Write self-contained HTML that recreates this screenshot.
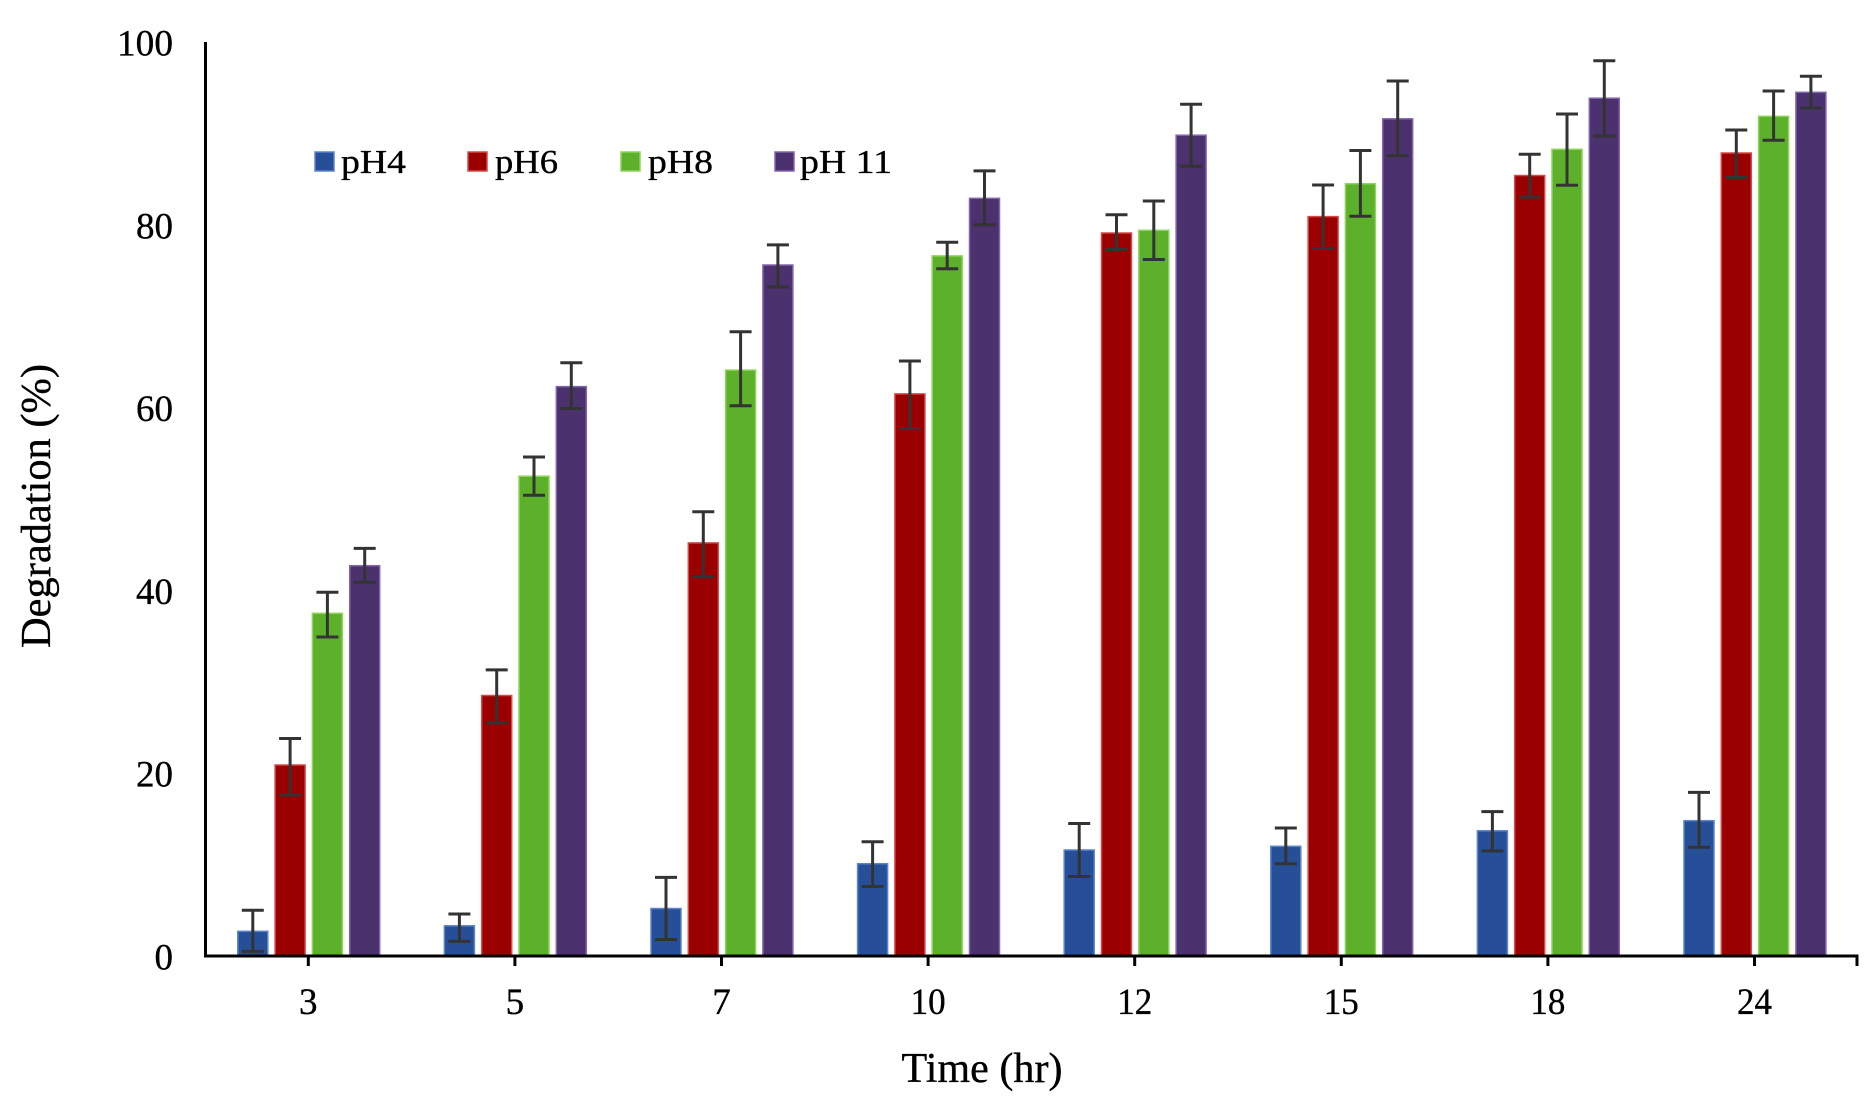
<!DOCTYPE html>
<html>
<head>
<meta charset="utf-8">
<style>
html,body{margin:0;padding:0;background:#fff;}
svg{display:block;}
text{font-family:"Liberation Serif","Times New Roman",serif;fill:#000;stroke:#000;stroke-width:0.35;}
</style>
</head>
<body>
<svg width="1870" height="1103" viewBox="0 0 1870 1103" xmlns="http://www.w3.org/2000/svg">
<rect x="0" y="0" width="1870" height="1103" fill="#fff"/>

<!-- Y tick labels -->
<g font-size="37" text-anchor="end">
<text x="173" y="969.5">0</text>
<text x="173" y="786.7">20</text>
<text x="173" y="603.9">40</text>
<text x="173" y="421.1">60</text>
<text x="173" y="238.3">80</text>
<text x="173" y="55.5" textLength="56" lengthAdjust="spacingAndGlyphs">100</text>
</g>

<!-- Y title -->
<text font-size="42" text-anchor="middle" transform="translate(50,506) rotate(-90)" textLength="284" lengthAdjust="spacingAndGlyphs">Degradation (%)</text>

<!-- X title -->
<text x="982" y="1082" font-size="42" text-anchor="middle" textLength="161" lengthAdjust="spacingAndGlyphs">Time (hr)</text>

<!-- X tick labels -->
<g font-size="37" text-anchor="middle">
<text x="308.3" y="1014">3</text>
<text x="514.9" y="1014">5</text>
<text x="721.5" y="1014">7</text>
<text x="928.1" y="1014" textLength="35" lengthAdjust="spacingAndGlyphs">10</text>
<text x="1134.7" y="1014" textLength="35" lengthAdjust="spacingAndGlyphs">12</text>
<text x="1341.3" y="1014" textLength="35" lengthAdjust="spacingAndGlyphs">15</text>
<text x="1547.9" y="1014" textLength="35" lengthAdjust="spacingAndGlyphs">18</text>
<text x="1754.5" y="1014" textLength="35" lengthAdjust="spacingAndGlyphs">24</text>
</g>

<!-- Bars -->
<g stroke-width="1.5">
<g fill="#264F98" stroke="#5A84CC">
<rect x="237.8" y="931.3" width="30" height="24.7"/>
<rect x="444.4" y="925.8" width="30" height="30.2"/>
<rect x="651.0" y="908.5" width="30" height="47.5"/>
<rect x="857.6" y="863.7" width="30" height="92.3"/>
<rect x="1064.2" y="850.0" width="30" height="106.0"/>
<rect x="1270.8" y="846.3" width="30" height="109.7"/>
<rect x="1477.4" y="830.8" width="30" height="125.2"/>
<rect x="1684.0" y="820.7" width="30" height="135.3"/>
</g>
<g fill="#9B0000" stroke="#D24A4A">
<rect x="275.1" y="765.0" width="30" height="191.0"/>
<rect x="481.7" y="695.5" width="30" height="260.5"/>
<rect x="688.3" y="542.9" width="30" height="413.1"/>
<rect x="894.9" y="393.9" width="30" height="562.1"/>
<rect x="1101.5" y="233.0" width="30" height="723.0"/>
<rect x="1308.1" y="216.6" width="30" height="739.4"/>
<rect x="1514.7" y="175.5" width="30" height="780.5"/>
<rect x="1721.3" y="153.0" width="30" height="803.0"/>
</g>
<g fill="#5DB02A" stroke="#8FD45C">
<rect x="312.4" y="613.3" width="30" height="342.7"/>
<rect x="519.0" y="476.2" width="30" height="479.8"/>
<rect x="725.6" y="370.1" width="30" height="585.9"/>
<rect x="932.2" y="255.9" width="30" height="700.1"/>
<rect x="1138.8" y="230.3" width="30" height="725.7"/>
<rect x="1345.4" y="183.7" width="30" height="772.3"/>
<rect x="1552.0" y="149.3" width="30" height="806.7"/>
<rect x="1758.6" y="116.3" width="30" height="839.7"/>
</g>
<g fill="#4B316E" stroke="#8466AE">
<rect x="349.7" y="565.7" width="30" height="390.3"/>
<rect x="556.3" y="386.6" width="30" height="569.4"/>
<rect x="762.9" y="265.0" width="30" height="691.0"/>
<rect x="969.5" y="198.3" width="30" height="757.7"/>
<rect x="1176.1" y="135.2" width="30" height="820.8"/>
<rect x="1382.7" y="118.8" width="30" height="837.2"/>
<rect x="1589.3" y="98.2" width="30" height="857.8"/>
<rect x="1795.9" y="92.3" width="30" height="863.7"/>
</g>
</g>

<!-- Error bars -->
<g stroke="#333" stroke-width="3" fill="none">
<path d="
M252.8 910.3V951.4M241.8 910.3H263.8M241.8 951.4H263.8
M290.1 738.5V795.1M279.1 738.5H301.1M279.1 795.1H301.1
M327.4 592.2V637.0M316.4 592.2H338.4M316.4 637.0H338.4
M364.7 548.4V582.2M353.7 548.4H375.7M353.7 582.2H375.7

M459.4 914.0V941.4M448.4 914.0H470.4M448.4 941.4H470.4
M496.7 669.9V722.9M485.7 669.9H507.7M485.7 722.9H507.7
M534.0 457.0V495.3M523.0 457.0H545.0M523.0 495.3H545.0
M571.3 362.8V408.5M560.3 362.8H582.3M560.3 408.5H582.3

M666.0 877.4V939.5M655.0 877.4H677.0M655.0 939.5H677.0
M703.3 511.8V576.7M692.3 511.8H714.3M692.3 576.7H714.3
M740.6 331.7V405.8M729.6 331.7H751.6M729.6 405.8H751.6
M777.9 244.9V287.0M766.9 244.9H788.9M766.9 287.0H788.9

M872.6 841.8V886.5M861.6 841.8H883.6M861.6 886.5H883.6
M909.9 361.0V428.6M898.9 361.0H920.9M898.9 428.6H920.9
M947.2 242.2V268.7M936.2 242.2H958.2M936.2 268.7H958.2
M984.5 170.9V224.8M973.5 170.9H995.5M973.5 224.8H995.5

M1079.2 823.5V876.5M1068.2 823.5H1090.2M1068.2 876.5H1090.2
M1116.5 214.7V249.5M1105.5 214.7H1127.5M1105.5 249.5H1127.5
M1153.8 201.0V259.5M1142.8 201.0H1164.8M1142.8 259.5H1164.8
M1191.1 104.2V166.3M1180.1 104.2H1202.1M1180.1 166.3H1202.1

M1285.8 828.0V863.7M1274.8 828.0H1296.8M1274.8 863.7H1296.8
M1323.1 185.0V248.5M1312.1 185.0H1334.1M1312.1 248.5H1334.1
M1360.4 150.5V216.2M1349.4 150.5H1371.4M1349.4 216.2H1371.4
M1397.7 81.0V155.8M1386.7 81.0H1408.7M1386.7 155.8H1408.7

M1492.4 811.6V850.9M1481.4 811.6H1503.4M1481.4 850.9H1503.4
M1529.7 154.3V197.3M1518.7 154.3H1540.7M1518.7 197.3H1540.7
M1567.0 114.0V185.3M1556.0 114.0H1578.0M1556.0 185.3H1578.0
M1604.3 60.8V136.0M1593.3 60.8H1615.3M1593.3 136.0H1615.3

M1699.0 792.4V847.2M1688.0 792.4H1710.0M1688.0 847.2H1710.0
M1736.3 130.0V177.5M1725.3 130.0H1747.3M1725.3 177.5H1747.3
M1773.6 91.0V140.3M1762.6 91.0H1784.6M1762.6 140.3H1784.6
M1810.9 76.2V108.0M1799.9 76.2H1821.9M1799.9 108.0H1821.9
"/>
</g>

<!-- Axes -->
<g stroke="#000" stroke-width="3" fill="none">
<line x1="205.5" y1="42" x2="205.5" y2="957.5"/>
<line x1="204" y1="956" x2="1858.5" y2="956"/>
<path d="M308.3 956V966M514.9 956V966M721.5 956V966M928.1 956V966M1134.7 956V966M1341.3 956V966M1547.9 956V966M1754.5 956V966M1857 956V966"/>
</g>

<!-- Legend -->
<g stroke-width="1.5">
<rect x="315" y="152" width="19" height="19" fill="#264F98" stroke="#5A84CC"/>
<rect x="468" y="152" width="19" height="19" fill="#9B0000" stroke="#D24A4A"/>
<rect x="621" y="152" width="19" height="19" fill="#5DB02A" stroke="#8FD45C"/>
<rect x="775" y="152" width="19" height="19" fill="#4B316E" stroke="#8466AE"/>
</g>
<g font-size="34">
<text x="341" y="173" textLength="65" lengthAdjust="spacingAndGlyphs">pH4</text>
<text x="495" y="173" textLength="63" lengthAdjust="spacingAndGlyphs">pH6</text>
<text x="648" y="173" textLength="65" lengthAdjust="spacingAndGlyphs">pH8</text>
<text x="800" y="173" textLength="92" lengthAdjust="spacingAndGlyphs">pH 11</text>
</g>
</svg>
</body>
</html>
